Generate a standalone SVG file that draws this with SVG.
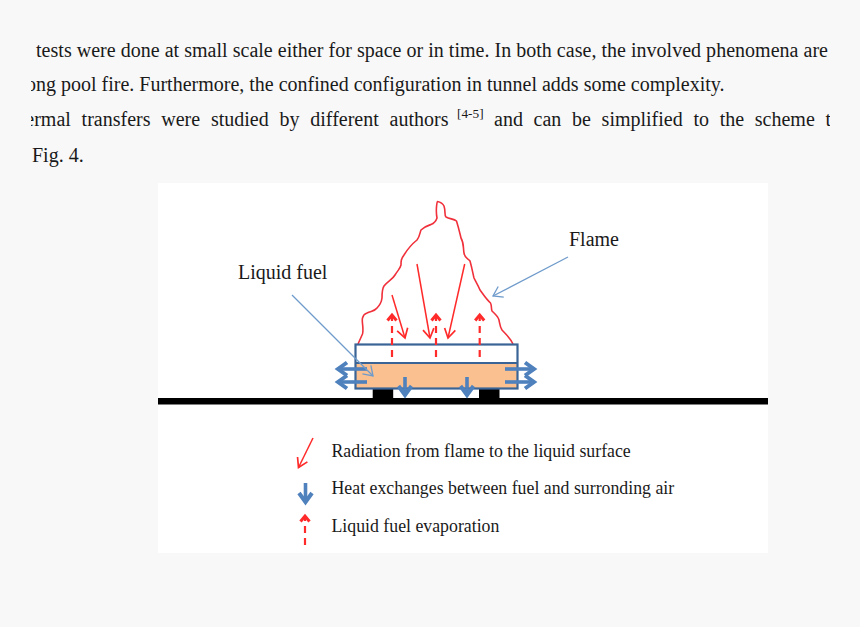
<svg xmlns="http://www.w3.org/2000/svg" width="860" height="627" viewBox="0 0 860 627">
<style>
text{font-family:"Liberation Serif","Times New Roman",serif;fill:#1a1a1a}
.body{font-size:20px}
.lab{font-size:20px}
.leg{font-size:17.800px}
.blue{fill:none;stroke:#4f81bd;stroke-width:3.600}
.thin{fill:none;stroke:#6f9bcb;stroke-width:1.300}
.red{fill:none;stroke:#ff2a2a;stroke-width:1.500}
.dash{fill:none;stroke:#ff2a2a;stroke-width:2.200;stroke-dasharray:7 5}
</style>
<defs>
<clipPath id="page"><rect x="31" y="0" width="799" height="170"/></clipPath>
<marker id="ra" markerUnits="userSpaceOnUse" markerWidth="16" markerHeight="16" refX="13" refY="8" orient="auto"><path d="M4 2.500L13 8L4 13.500" fill="none" stroke="#ff2a2a" stroke-width="1.700"/></marker>
<marker id="rd" markerUnits="userSpaceOnUse" markerWidth="14" markerHeight="14" refX="11" refY="7" orient="auto"><path d="M5.500 2.500L11 7L5.500 11.500" fill="none" stroke="#ff2a2a" stroke-width="3"/></marker>
<marker id="tb" markerUnits="userSpaceOnUse" markerWidth="16" markerHeight="16" refX="13" refY="8" orient="auto"><path d="M4 2L13 8L4 14" fill="none" stroke="#6f9bcb" stroke-width="1.300"/></marker>
<marker id="bd" markerUnits="userSpaceOnUse" markerWidth="20" markerHeight="20" refX="16" refY="10" orient="auto"><path d="M7 3.500L16 10L7 16.500" fill="none" stroke="#4f81bd" stroke-width="4"/></marker>
</defs>
<rect width="860" height="627" fill="#f8f8f8"/>
<rect x="158" y="183" width="610" height="370" fill="#ffffff"/>

<g id="page-text" clip-path="url(#page)">
<text class="body" x="36" y="56.500" textLength="792" lengthAdjust="spacing">tests were done at small scale either for space or in time. In both case, the involved phenomena are</text>
<text class="body" x="26" y="90.500">ong pool fire. Furthermore, the confined configuration in tunnel adds some complexity.</text>
<text class="body" x="25.300" y="126" word-spacing="5.800">ermal transfers were studied by different authors</text>
<text x="457" y="118" font-size="13.300">[4-5]</text>
<text class="body" x="494" y="126" word-spacing="5.700">and can be simplified to the scheme t</text>
<text class="body" x="32" y="161.500">Fig. 4.</text>
</g>

<g id="ground">
<rect x="158" y="398" width="610" height="6.500" fill="#000"/>
<rect x="372.700" y="389" width="20.500" height="10" fill="#000"/>
<rect x="479" y="389" width="20.500" height="10" fill="#000"/>
</g>

<g id="flame">
<path fill="none" stroke="#f0303a" stroke-width="1.600" stroke-linejoin="round" d="M358 344L362.500 334C364 328 361.500 322 362.500 318C364 313 366 314 367 313C371 311 375 311 377 308C380 305 381.500 302 382 298C382 292 382 289 384 286C388 281 392 280 395 275C398 270 400 269 401 265C401 261 401 259 404 255C407 250 412 244 417 240C420 236 420 232 421 230C425 226 430 225 431 224.500C435 223 436 221 437 218C435.500 210 437 202 437.500 201.500C440 202 443 204 444 206C446 212 444 215 446 217C450 219 454 219 456.500 221C459 229 460 234 461 238C464 243 463 247 464 253C465 259 468 258 470 261C472 268 473 274 474 278C476 282 478 285 480 290C483 294 486 299 490.500 303C492 306 491 309 492 311C495 314 498 316 499 320C500 325 500 327 502 330C506 334 510 338 513 344"/>
</g>

<g id="tray">
<rect x="355.500" y="363" width="162" height="25.500" fill="#fac090"/>
<rect x="355.500" y="344.500" width="162" height="44" fill="none" stroke="#3b6496" stroke-width="2.200"/>
<line x1="355.500" y1="363" x2="517.500" y2="363" stroke="#3b6496" stroke-width="2.200"/>
</g>

<g id="connectors">
<line class="red" x1="392" y1="295" x2="405" y2="338" marker-end="url(#ra)"/>
<line class="red" x1="417" y1="264" x2="430" y2="338" marker-end="url(#ra)"/>
<line class="red" x1="464.700" y1="264" x2="448" y2="338" marker-end="url(#ra)"/>
<line class="dash" x1="392" y1="357" x2="392" y2="315" marker-end="url(#rd)"/>
<line class="dash" x1="436" y1="357" x2="436" y2="315" marker-end="url(#rd)"/>
<line class="dash" x1="479.700" y1="357" x2="479.700" y2="315" marker-end="url(#rd)"/>
<line class="blue" x1="367" y1="369" x2="338" y2="369" marker-end="url(#bd)"/>
<line class="blue" x1="367" y1="382" x2="338" y2="382" marker-end="url(#bd)"/>
<line class="blue" x1="505" y1="369" x2="534" y2="369" marker-end="url(#bd)"/>
<line class="blue" x1="505" y1="382" x2="534" y2="382" marker-end="url(#bd)"/>
<line class="blue" x1="405" y1="377" x2="405" y2="395" marker-end="url(#bd)"/>
<line class="blue" x1="467" y1="377" x2="467" y2="395" marker-end="url(#bd)"/>
<line class="thin" x1="568" y1="257" x2="493" y2="296" marker-end="url(#tb)"/>
<line class="thin" x1="292" y1="295" x2="373" y2="376" marker-end="url(#tb)"/>
<line class="red" x1="313" y1="438" x2="298.500" y2="467.500" marker-end="url(#ra)"/>
<line class="blue" x1="305.500" y1="483" x2="305.500" y2="502" marker-end="url(#bd)"/>
<line class="dash" x1="305" y1="545" x2="305" y2="516" marker-end="url(#rd)"/>
</g>

<g id="label-flame"><text class="lab" x="569" y="245.500">Flame</text></g>
<g id="label-fuel"><text class="lab" x="238" y="278.500">Liquid fuel</text></g>
<g id="legend">
<text class="leg" x="331.500" y="456.500">Radiation from flame to the liquid surface</text>
<text class="leg" x="331.500" y="493.500">Heat exchanges between fuel and surronding air</text>
<text class="leg" x="331.500" y="531.500">Liquid fuel evaporation</text>
</g>
</svg>
